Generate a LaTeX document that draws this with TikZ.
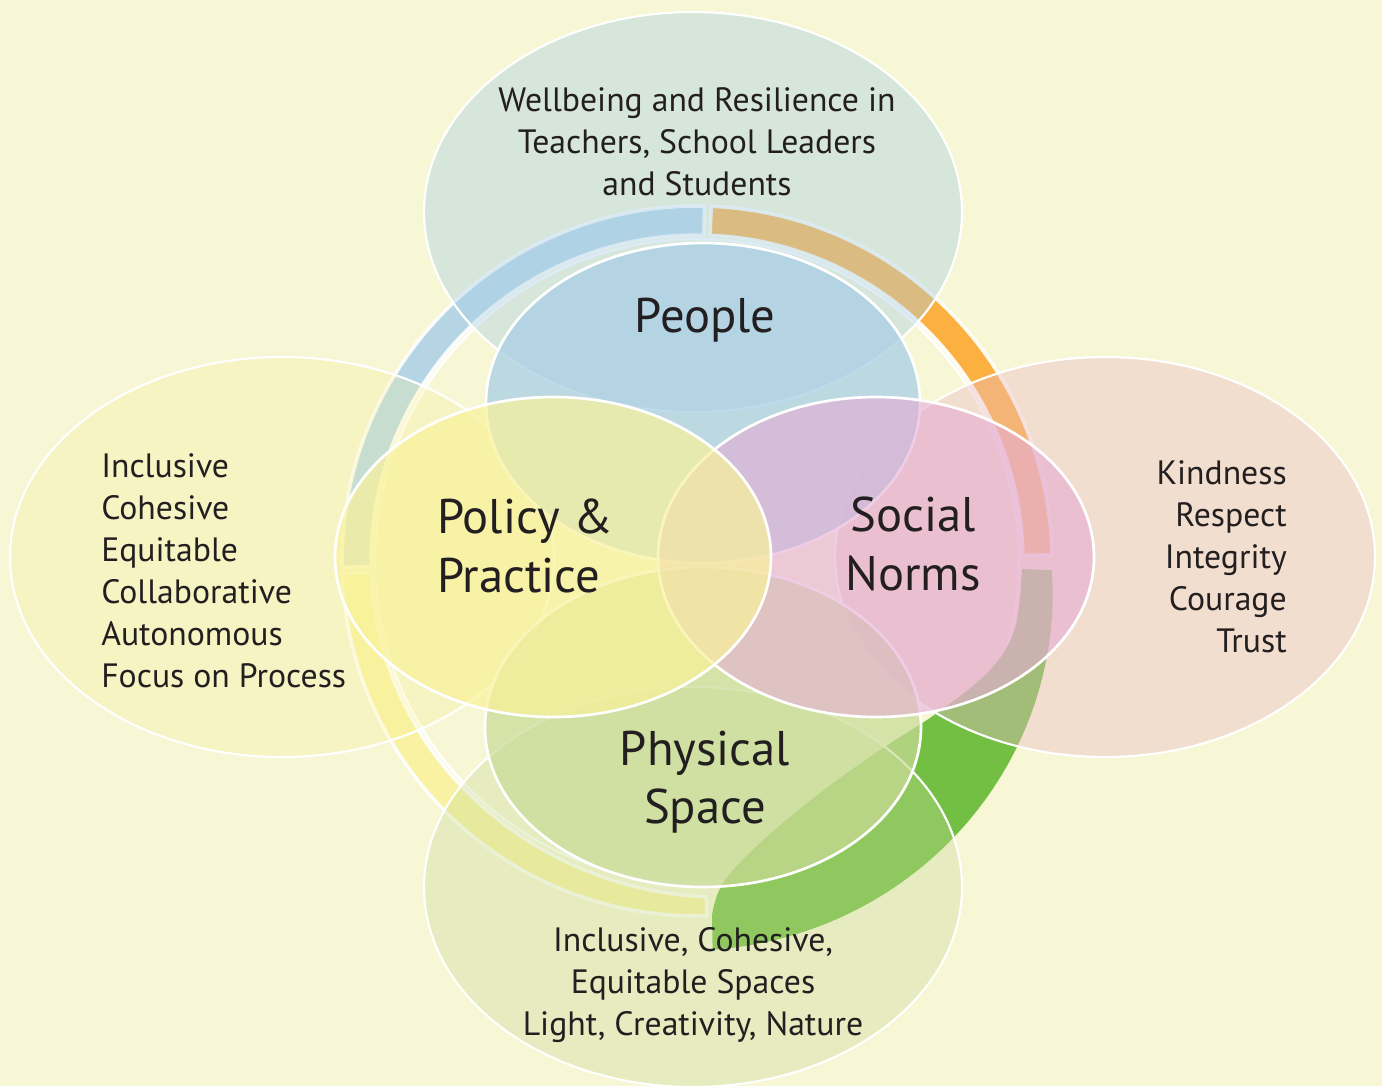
\documentclass[tikz,border=0pt]{standalone}
\usepackage{fontspec}
\setmainfont{PT Sans}
\definecolor{bgcol}{HTML}{F7F6D5}
\definecolor{ringblue}{HTML}{B5D5E5}
\definecolor{ringorange}{HTML}{FBB040}
\definecolor{ringyellow}{HTML}{F8F2A2}
\definecolor{ringgreen}{HTML}{72BF44}
\definecolor{peopleblue}{HTML}{A9CFE6}
\definecolor{policyyellow}{HTML}{F9F29A}
\definecolor{socialpink}{HTML}{E5ACD4}
\definecolor{spacegreen}{HTML}{C8DB96}
\definecolor{outerpeach}{HTML}{EBBBC5}
\definecolor{inkcol}{HTML}{231F20}
\begin{document}
\begin{tikzpicture}[x=0.75pt,y=-0.75pt,
  declare function={
    routg(\t)=355+34*(1.5*((-\t-1.5)/86.2)-0.5*((-\t-1.5)/86.2)^2);
    riny(\t)=326+10*(max(0,(\t-225)/46.6))^2;
  },
  segment/.style={draw=white,line width=2.6pt,draw opacity=0.9},
  outerring/.style={draw=white,line width=1.6pt},
  innerring/.style={draw=white,line width=2pt},
  smalltext/.style={inner sep=0pt,text=inkcol,font=\fontsize{25.3}{31.5}\selectfont},
  bigtext/.style={inner sep=0pt,text=inkcol,font=\fontsize{36.5}{44}\selectfont}]

\useasboundingbox (0,0) rectangle (1382,1086);
\fill[bgcol] (0,0) rectangle (1382,1086);

% ring segments around the centre (697,561)
\filldraw[segment,fill=ringblue]
  plot[domain=88.8:181,samples=60] ({697+355*cos(\x)},{561-355*sin(\x)})
  -- plot[domain=181:88.8,samples=60] ({697+326*cos(\x)},{561-326*sin(\x)}) -- cycle;
\filldraw[segment,fill=ringorange]
  plot[domain=1.0:87.7,samples=60] ({697+355*cos(\x)},{561-355*sin(\x)})
  -- plot[domain=87.7:1.0,samples=60] ({697+326*cos(\x)},{561-326*sin(\x)}) -- cycle;
\filldraw[segment,fill=ringyellow]
  plot[domain=182:271.6,samples=60] ({697+355*cos(\x)},{561-355*sin(\x)})
  -- plot[domain=271.6:182,samples=60] ({697+riny(\x)*cos(\x)},{561-riny(\x)*sin(\x)}) -- cycle;
\draw[white,line width=1.9pt] (697,561) circle[radius=322];

% green swoosh
\fill[ringgreen]
  plot[domain=-1.5:-87.7,samples=70] ({697+routg(\x)*cos(\x)},{561-routg(\x)*sin(\x)})
  -- plot[smooth,tension=0.6] coordinates {(712,915) (723,883) (760,843) (820,793) (880,750) (937,713) (990,670) (1015,628) (1022,569)}
  -- cycle;

% outer ellipses
\filldraw[outerring,fill=peopleblue,fill opacity=0.4] (693,212) ellipse[x radius=269,y radius=200];
\filldraw[outerring,fill=policyyellow,fill opacity=0.28] (282,557) ellipse[x radius=272,y radius=200];
\filldraw[outerring,fill=outerpeach,fill opacity=0.4] (1105,557) ellipse[x radius=270,y radius=200];
\filldraw[outerring,fill=spacegreen,fill opacity=0.35] (693,887) ellipse[x radius=269,y radius=200];

% inner ellipses
\filldraw[innerring,fill=peopleblue,fill opacity=0.75] (703,403) ellipse[x radius=217,y radius=160];
\filldraw[innerring,fill=spacegreen,fill opacity=0.7] (703,727) ellipse[x radius=218,y radius=160];
\filldraw[innerring,fill=socialpink,fill opacity=0.6] (876,557) ellipse[x radius=218,y radius=160];
\filldraw[innerring,fill=policyyellow,fill opacity=0.7] (553,557) ellipse[x radius=218,y radius=160];

% labels
\node[smalltext,align=center] (wellbeing) at (697,142)
  {Wellbeing and Resilience in\\Teachers, School Leaders\\and Students};
\node[bigtext] (people) at (705,320) {People};
\node[bigtext,align=left,anchor=west] (policy) at (437,546) {Policy \&\\Practice};
\node[bigtext,align=center] (social) at (913,544) {Social\\Norms};
\node[bigtext,align=center] (physical) at (705,782) {Physical\\Space};
\node[smalltext,align=left,anchor=west] (values) at (101,571)
  {Inclusive\\Cohesive\\Equitable\\Collaborative\\Autonomous\\Focus on Process};
\node[smalltext,align=right,anchor=east] (virtues) at (1287,557)
  {Kindness\\Respect\\Integrity\\Courage\\Trust};
\node[smalltext,align=center] (spaces) at (693,985)
  {Inclusive, Cohesive,\\Equitable Spaces\\Light, Creativity, Nature};
\end{tikzpicture}
\end{document}
